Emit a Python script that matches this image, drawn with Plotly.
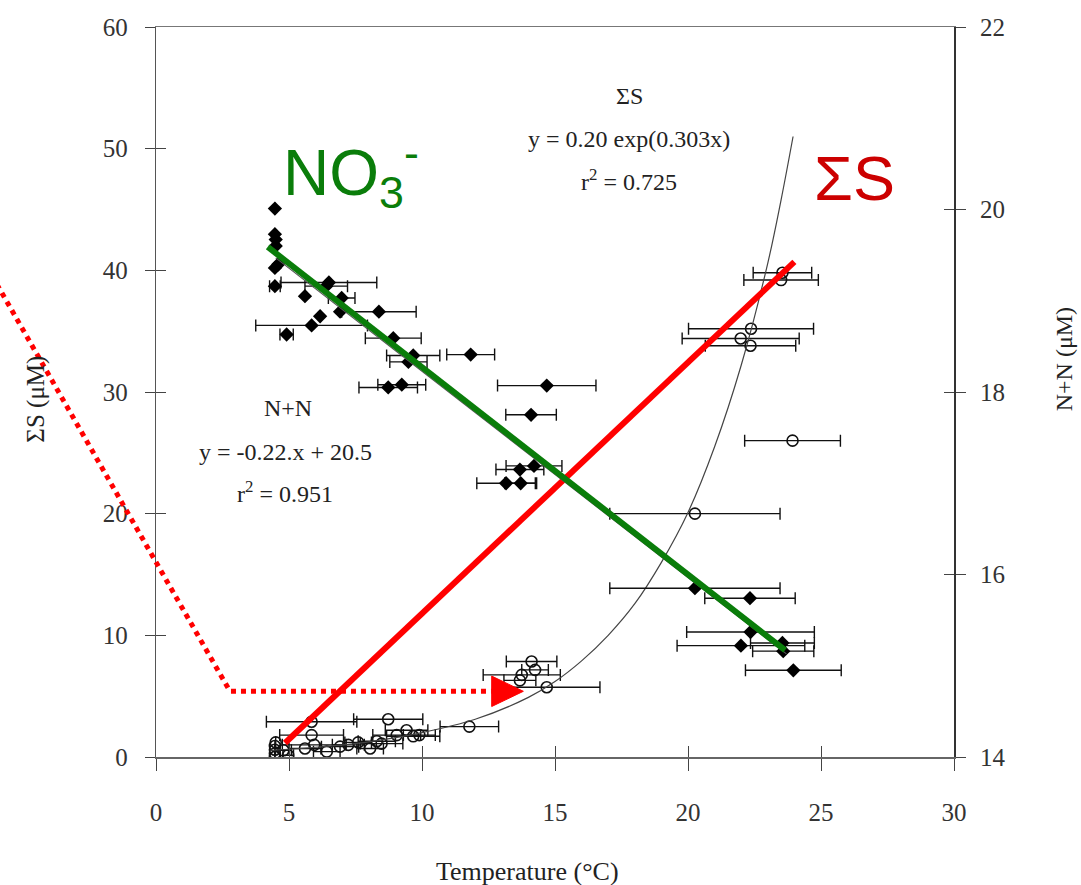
import plotly.graph_objects as go

# ---------------- data ----------------
# N+N (diamonds, right axis, µM)
nn_temp = [4.47, 4.47, 4.5, 4.5, 4.47, 4.6, 4.47, 6.5, 6.4, 5.6, 6.98, 6.92, 8.38, 6.17,
           5.85, 4.91, 8.92, 9.67, 9.49, 11.83, 8.73, 9.24, 14.69, 14.1, 14.21, 13.68,
           13.16, 13.71, 20.26, 22.33, 22.35, 21.99, 23.55, 23.58, 23.96]
nn_val = [20.01, 19.73, 19.67, 19.60, 19.36, 19.40, 19.16, 19.20, 19.16, 19.05, 19.03, 18.88,
          18.88, 18.83, 18.73, 18.63, 18.59, 18.40, 18.33, 18.41, 18.05, 18.08, 18.07, 17.75,
          17.19, 17.15, 17.00, 17.00, 15.85, 15.74, 15.37, 15.22, 15.25, 15.16, 14.95]
nn_terr = [0, 0, 0, 0, 0, 0, 0.2, 1.8, 0.8, 0, 0.5, 0, 1.4, 0,
           2.1, 0.25, 1.05, 1.0, 0.7, 0.9, 1.1, 0.9, 1.85, 0.95, 1.05, 0.9,
           1.1, 0.6, 3.2, 1.7, 2.4, 2.4, 1.2, 1.15, 1.8]

# Sum S (open circles, left axis, µM)
ss_temp = [4.47, 4.47, 4.47, 4.47, 4.5, 4.79, 4.97, 5.6, 5.85, 5.85, 5.95, 6.42, 6.92, 7.23,
           7.6, 8.05, 8.3, 8.48, 8.73, 9.05, 9.42, 9.67, 9.9, 11.78, 13.68, 13.75, 14.12,
           14.25, 14.69, 20.26, 21.98, 22.37, 22.35, 23.5, 23.55, 23.93]
ss_val = [0.0, 0.3, 0.6, 0.9, 1.2, 0.55, 0.15, 0.7, 1.8, 2.9, 1.0, 0.44, 0.85, 1.0,
          1.2, 0.7, 1.3, 1.1, 3.1, 1.8, 2.2, 1.7, 1.8, 2.5, 6.3, 6.75, 7.85,
          7.16, 5.73, 20.0, 34.4, 35.2, 33.8, 39.2, 39.8, 26.0]
ss_terr = [0, 0, 0, 0, 0, 0.3, 0.2, 0.6, 1.2, 1.7, 1.2, 0.5, 0.7, 0.6,
           0.5, 0.5, 0.7, 0.8, 1.3, 0.9, 0.8, 1.0, 0.6, 1.1, 0.6, 1.45, 0.95,
           0.5, 2.0, 3.2, 2.2, 2.35, 1.7, 1.4, 1.1, 1.8]

# fitted exponential curve for Sum S
curve_temp = [4.3, 6, 8, 10, 12, 14, 15, 16, 17, 18, 19, 20, 21, 22, 23, 23.5, 23.95]
curve_val = [0.55, 0.8, 1.25, 2.0, 3.1, 4.9, 6.2, 7.9, 10.0, 12.6, 16.0, 20.1, 25.5, 32.2, 40.6, 45.8, 51.0]

# thin original N+N regression line (right axis)
nn_fit_temp = [4.5, 23.7]
nn_fit_val = [19.47, 15.13]

# highlighted trend lines
no3_line_temp = [4.2, 23.65]     # right axis
no3_line_val = [19.59, 15.17]
ss_line_temp = [4.85, 24.0]      # left axis
ss_line_val = [1.15, 40.7]

# dotted red arrow (data units of the left axis)
arrow_temp = [-5.98, 2.78, 12.62]
arrow_val = [38.85, 5.4, 5.4]
arrow_tip_temp = 13.81
arrow_half_height = 1.25

x_range = [0, 30]
y_left_range = [0, 60]
y_right_range = [14, 22]
x_ticks = [0, 5, 10, 15, 20, 25, 30]
y_left_ticks = [0, 10, 20, 30, 40, 50, 60]
y_right_ticks = [14, 16, 18, 20, 22]

# ---------------- figure ----------------
SERIF = "Liberation Serif"
AX = "#444444"
ERR = dict(type="data", visible=True, thickness=1.4, width=6, color="#111111")

fig = go.Figure()

fig.add_trace(go.Scatter(
    x=ss_temp, y=ss_val, mode="markers", yaxis="y", xaxis="x",
    marker=dict(symbol="circle-open", size=11, color="#111111", line=dict(width=1.6)),
    error_x=dict(array=ss_terr, **ERR), showlegend=False))

fig.add_trace(go.Scatter(
    x=nn_temp, y=nn_val, mode="markers", yaxis="y2", xaxis="x",
    marker=dict(symbol="diamond", size=11, color="#000000"),
    error_x=dict(array=nn_terr, **ERR), showlegend=False))

fig.add_trace(go.Scatter(
    x=curve_temp, y=curve_val, mode="lines", yaxis="y",
    line=dict(color="#444444", width=1.2, shape="spline"), showlegend=False))

fig.add_trace(go.Scatter(
    x=nn_fit_temp, y=nn_fit_val, mode="lines", yaxis="y2",
    line=dict(color="#555555", width=1.2), showlegend=False))

fig.add_trace(go.Scatter(
    x=no3_line_temp, y=no3_line_val, mode="lines", yaxis="y2",
    line=dict(color="#0a7d0a", width=6), showlegend=False))

fig.add_trace(go.Scatter(
    x=ss_line_temp, y=ss_line_val, mode="lines", yaxis="y",
    line=dict(color="#ff0000", width=6), showlegend=False))


def px(t):
    return (t - x_range[0]) / (x_range[1] - x_range[0])


def py(v):
    return (v - y_left_range[0]) / (y_left_range[1] - y_left_range[0])


path = "M {} {}".format(px(arrow_temp[0]), py(arrow_val[0]))
for t, v in zip(arrow_temp[1:], arrow_val[1:]):
    path += " L {} {}".format(px(t), py(v))

tri = "M {} {} L {} {} L {} {} Z".format(
    px(arrow_temp[-1]), py(arrow_val[-1] + arrow_half_height),
    px(arrow_tip_temp), py(arrow_val[-1]),
    px(arrow_temp[-1]), py(arrow_val[-1] - arrow_half_height))

shapes = [
    dict(type="path", path=path, xref="paper", yref="paper",
         line=dict(color="#ff0000", width=5, dash="dot"), layer="above"),
    dict(type="path", path=tri, xref="paper", yref="paper",
         fillcolor="#ff0000", line=dict(color="#ff0000", width=1), layer="above"),
]

TXT = dict(family=SERIF, size=24, color="#222222")
TICKF = dict(family=SERIF, size=25, color="#333333")

annotations = [
    dict(x=17.8, y=54.3, xref="x", yref="y", text="ΣS", showarrow=False, font=TXT),
    dict(x=17.8, y=50.8, xref="x", yref="y", text="y = 0.20 exp(0.303x)", showarrow=False, font=TXT),
    dict(x=17.8, y=47.4, xref="x", yref="y", text="r<sup>2</sup> = 0.725", showarrow=False, font=TXT),
    dict(x=4.95, y=28.7, xref="x", yref="y", text="N+N", showarrow=False, font=TXT),
    dict(x=4.85, y=25.1, xref="x", yref="y", text="y = -0.22.x + 20.5", showarrow=False, font=TXT),
    dict(x=4.85, y=21.8, xref="x", yref="y", text="r<sup>2</sup> = 0.951", showarrow=False, font=TXT),
    # big coloured labels
    dict(x=4.7, y=48.1, xref="x", yref="y", xanchor="left", yanchor="middle",
         text="NO<sub>3</sub><sup>-</sup>", showarrow=False,
         font=dict(family="Liberation Sans", size=64, color="#0a7d0a")),
    dict(x=24.65, y=47.6, xref="x", yref="y", xanchor="left", yanchor="middle",
         text="ΣS", showarrow=False,
         font=dict(family="Liberation Sans", size=63, color="#cc0000")),
    # axis titles
    dict(x=-0.17, y=0.49, xref="paper", yref="paper", text="ΣS (μM)", textangle=-90,
         showarrow=False, font=dict(family=SERIF, size=25, color="#222222")),
    dict(x=1.138, y=0.545, xref="paper", yref="paper", text="N+N (μM)", textangle=-90,
         showarrow=False, font=dict(family=SERIF, size=24, color="#222222"), xanchor="center"),
    dict(x=0.465, y=-0.1575, xref="paper", yref="paper", text="Temperature (°C)",
         showarrow=False, font=dict(family=SERIF, size=26, color="#222222"), yanchor="middle"),
]
# right-axis tick labels, placed at the right axis tick values
for v in y_right_ticks:
    annotations.append(dict(x=1, xref="paper", y=v, yref="y2", xanchor="left", yanchor="middle",
                            xshift=24, text=str(v), showarrow=False, font=TICKF))

fig.update_layout(
    width=1081, height=885,
    margin=dict(l=156, r=127, t=27, b=128),
    paper_bgcolor="white", plot_bgcolor="white",
    showlegend=False,
    xaxis=dict(range=x_range, tickvals=x_ticks, ticks="outside", ticklen=12, tickwidth=1.2,
               tickcolor=AX, showline=True, linecolor="#666666", linewidth=2, mirror=False,
               showgrid=False, zeroline=False, tickfont=TICKF, ticklabelstandoff=20),
    xaxis2=dict(range=x_range, overlaying="x", anchor="y", side="bottom", tickvals=x_ticks,
                ticks="inside", ticklen=11, tickwidth=1.2, tickcolor=AX, showticklabels=False,
                showline=False, showgrid=False, zeroline=False),
    xaxis3=dict(range=x_range, overlaying="x", anchor="y", side="top", showticklabels=False,
                ticks="", showline=True, linecolor="#777777", linewidth=1.2,
                showgrid=False, zeroline=False),
    yaxis=dict(range=y_left_range, tickvals=y_left_ticks, ticks="outside", ticklen=10,
               tickwidth=1.2, tickcolor=AX, showline=True, linecolor="#555555", linewidth=1.3,
               showgrid=False, zeroline=False, tickfont=TICKF, ticklabelstandoff=12),
    yaxis2=dict(range=y_right_range, tickvals=y_right_ticks, showticklabels=False,
                overlaying="y", side="right",
                anchor="x", ticks="outside", ticklen=10, tickwidth=1.2, tickcolor=AX,
                showline=True, linecolor="#333333", linewidth=1.5, showgrid=False,
                zeroline=False),
    yaxis3=dict(range=y_left_range, tickvals=y_left_ticks, overlaying="y", side="left",
                anchor="x", ticks="inside", ticklen=10, tickwidth=1.2, tickcolor=AX,
                showticklabels=False, showline=False, showgrid=False, zeroline=False),
    yaxis4=dict(range=y_right_range, tickvals=y_right_ticks, overlaying="y", side="right",
                anchor="x", ticks="inside", ticklen=10, tickwidth=1.2, tickcolor=AX,
                showticklabels=False, showline=False, showgrid=False, zeroline=False),
    shapes=shapes,
    annotations=annotations,
)

# empty helpers so the overlay axes are drawn
fig.add_trace(go.Scatter(x=[None], y=[None], xaxis="x2", yaxis="y3", showlegend=False, hoverinfo="skip"))
fig.add_trace(go.Scatter(x=[None], y=[None], xaxis="x3", yaxis="y4", showlegend=False, hoverinfo="skip"))

fig.write_html("out.html")
